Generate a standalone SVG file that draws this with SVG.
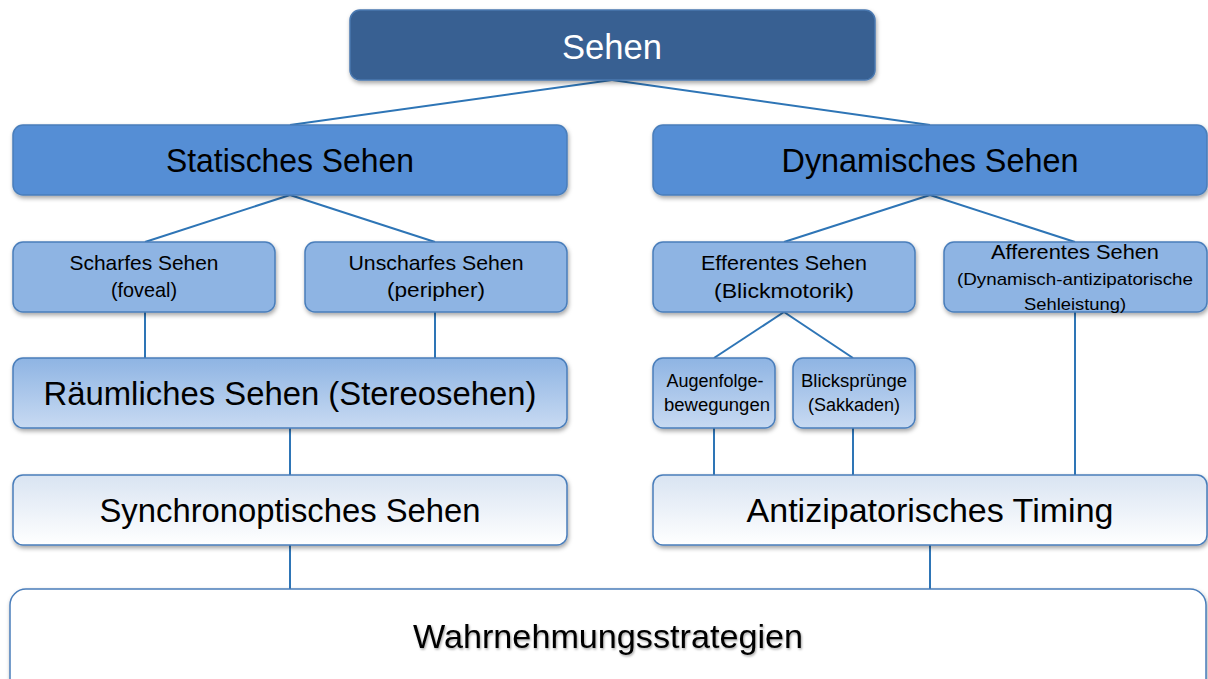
<svg xmlns="http://www.w3.org/2000/svg" width="1208" height="679" viewBox="0 0 1208 679">
<defs>
  <filter id="sh" x="-5%" y="-20%" width="110%" height="150%">
    <feDropShadow dx="1" dy="2.5" stdDeviation="2" flood-color="#000" flood-opacity="0.35"/>
  </filter>
  <filter id="tsh" x="-5%" y="-20%" width="110%" height="150%">
    <feDropShadow dx="1" dy="1.5" stdDeviation="1.2" flood-color="#000" flood-opacity="0.35"/>
  </filter>
  <linearGradient id="gMid" x1="0" y1="0" x2="0" y2="1">
    <stop offset="0" stop-color="#8EB4E3"/>
    <stop offset="1" stop-color="#C8DAF2"/>
  </linearGradient>
  <linearGradient id="gLight" x1="0" y1="0" x2="0" y2="1">
    <stop offset="0" stop-color="#D9E4F2"/>
    <stop offset="1" stop-color="#FFFFFF"/>
  </linearGradient>
  <style>
    .box { stroke: #4A7EBB; stroke-width: 1.5; filter: url(#sh); }
    .dark { fill: #376092; stroke: #4A78B0; }
    .l1 { fill: #558ED5; }
    .l2 { fill: #8EB4E3; }
    .mid { fill: url(#gMid); }
    .light { fill: url(#gLight); }
    .white { fill: #FFFFFF; }
    text { font-family: "Liberation Sans", Arial, sans-serif; fill: #000; text-anchor: middle; }
    .big { font-size: 33px; }
    .small { font-size: 21px; }
    .xs { font-size: 18px; }
    .conn line { stroke: #2E75B6; stroke-width: 2; }
  </style>
</defs>
<rect width="1208" height="679" fill="#FFFFFF"/>

<g id="connectors" class="conn">
  <line x1="612" y1="80" x2="290" y2="125"/>
  <line x1="612" y1="80" x2="930" y2="125"/>
  <line x1="290" y1="195" x2="145" y2="242"/>
  <line x1="290" y1="195" x2="435" y2="242"/>
  <line x1="930" y1="195" x2="784" y2="242"/>
  <line x1="930" y1="195" x2="1075" y2="242"/>
  <line x1="145" y1="312" x2="145" y2="358"/>
  <line x1="435" y1="312" x2="435" y2="358"/>
  <line x1="290" y1="428" x2="290" y2="475"/>
  <line x1="290" y1="545" x2="290" y2="590"/>
  <line x1="784" y1="312" x2="714" y2="358"/>
  <line x1="784" y1="312" x2="853" y2="358"/>
  <line x1="714" y1="428" x2="714" y2="475"/>
  <line x1="853" y1="428" x2="853" y2="475"/>
  <line x1="1075" y1="312" x2="1075" y2="475"/>
  <line x1="930" y1="545" x2="930" y2="590"/>
</g>

<g id="n-sehen">
  <rect class="box dark" x="350" y="10" width="525" height="70" rx="10"/>
  <text x="612" y="59" style="font-size:35px; fill:#FFFFFF" textLength="100" lengthAdjust="spacingAndGlyphs">Sehen</text>
</g>

<g id="n-statisch">
  <rect class="box l1" x="13" y="125" width="554" height="70" rx="10"/>
  <text class="big" x="290" y="172" textLength="248" lengthAdjust="spacingAndGlyphs">Statisches Sehen</text>
</g>

<g id="n-dynamisch">
  <rect class="box l1" x="653" y="125" width="554" height="70" rx="10"/>
  <text class="big" x="930" y="172" textLength="297" lengthAdjust="spacingAndGlyphs">Dynamisches Sehen</text>
</g>

<g id="n-scharf">
  <rect class="box l2" x="13" y="242" width="262" height="70" rx="10"/>
  <text class="small" x="144" y="270" textLength="149" lengthAdjust="spacingAndGlyphs">Scharfes Sehen</text>
  <text class="small" x="144" y="297" textLength="66" lengthAdjust="spacingAndGlyphs">(foveal)</text>
</g>

<g id="n-unscharf">
  <rect class="box l2" x="305" y="242" width="262" height="70" rx="10"/>
  <text class="small" x="436" y="270" textLength="175" lengthAdjust="spacingAndGlyphs">Unscharfes Sehen</text>
  <text class="small" x="436" y="297" textLength="98" lengthAdjust="spacingAndGlyphs">(peripher)</text>
</g>

<g id="n-efferent">
  <rect class="box l2" x="653" y="242" width="262" height="70" rx="10"/>
  <text class="small" x="784" y="270" textLength="166" lengthAdjust="spacingAndGlyphs">Efferentes Sehen</text>
  <text class="small" x="784" y="298" textLength="140" lengthAdjust="spacingAndGlyphs">(Blickmotorik)</text>
</g>

<g id="n-afferent">
  <rect class="box l2" x="944" y="242" width="263" height="70" rx="10"/>
  <text class="small" x="1075" y="259" textLength="168" lengthAdjust="spacingAndGlyphs">Afferentes Sehen</text>
  <text x="1075" y="285" style="font-size:17px" textLength="236" lengthAdjust="spacingAndGlyphs">(Dynamisch-antizipatorische</text>
  <text x="1075" y="310" style="font-size:17px" textLength="102" lengthAdjust="spacingAndGlyphs">Sehleistung)</text>
</g>

<g id="n-raeumlich">
  <rect class="box mid" x="13" y="358" width="554" height="70" rx="10"/>
  <text class="big" x="290" y="405" textLength="493" lengthAdjust="spacingAndGlyphs">Räumliches Sehen (Stereosehen)</text>
</g>

<g id="n-augenfolge">
  <rect class="box mid" x="653" y="358" width="122" height="70" rx="10"/>
  <text class="xs" x="715" y="387" textLength="97" lengthAdjust="spacingAndGlyphs">Augenfolge-</text>
  <text class="xs" x="717" y="411" textLength="106" lengthAdjust="spacingAndGlyphs">bewegungen</text>
</g>

<g id="n-blick">
  <rect class="box mid" x="793" y="358" width="122" height="70" rx="10"/>
  <text class="xs" x="854" y="387" textLength="106" lengthAdjust="spacingAndGlyphs">Blicksprünge</text>
  <text class="xs" x="854" y="411" textLength="92" lengthAdjust="spacingAndGlyphs">(Sakkaden)</text>
</g>

<g id="n-synchron">
  <rect class="box light" x="13" y="475" width="554" height="70" rx="10"/>
  <text class="big" x="290" y="522" textLength="381" lengthAdjust="spacingAndGlyphs">Synchronoptisches Sehen</text>
</g>

<g id="n-antizip">
  <rect class="box light" x="653" y="475" width="554" height="70" rx="10"/>
  <text class="big" x="930" y="522" textLength="367" lengthAdjust="spacingAndGlyphs">Antizipatorisches Timing</text>
</g>

<g id="n-wahrnehmung">
  <rect class="box white" x="10" y="589" width="1196" height="120" rx="16"/>
  <text x="608" y="648" style="font-size:34px; filter:url(#tsh)" textLength="390" lengthAdjust="spacingAndGlyphs">Wahrnehmungsstrategien</text>
</g>
</svg>
